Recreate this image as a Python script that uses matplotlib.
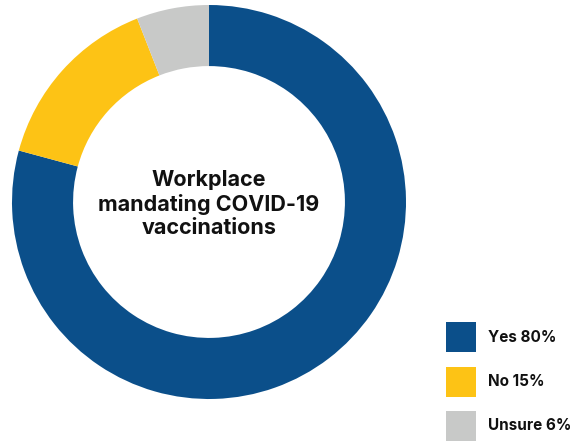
import matplotlib
matplotlib.use("Agg")
import matplotlib.pyplot as plt
from matplotlib.patches import Rectangle

categories = ["Yes", "No", "Unsure"]
values = [80, 15, 6]
colors = ["#0b4f8a", "#fdc315", "#c8c9c8"]
center_title = "Workplace\nmandating COVID-19\nvaccinations"

W, H = 580, 441
fig = plt.figure(figsize=(W / 100, H / 100), dpi=100)

# donut: centre (209, 202) px from top-left, outer radius 197 px
cx, cy, r = 209, 202, 197
ax = fig.add_axes([(cx - r) / W, (H - cy - r) / H, 2 * r / W, 2 * r / H])
ax.pie(values, colors=colors, startangle=90, counterclock=False,
       wedgeprops=dict(width=0.31, edgecolor="none"), radius=1)
ax.set_xlim(-1, 1)
ax.set_ylim(-1, 1)
ax.set_aspect("equal")
ax.axis("off")

ax.text(0, -0.01, center_title, ha="center", va="center", fontsize=15.5,
        family="Inter", weight="bold", color="#111111", linespacing=1.24)

# legend swatches with labels
for i, (cat, val, col) in enumerate(zip(categories, values, colors)):
    top = 322 + i * 44.5
    fig.patches.append(Rectangle((446 / W, 1 - (top + 30) / H), 30 / W, 30 / H,
                                 transform=fig.transFigure, facecolor=col,
                                 edgecolor="none"))
    fig.text(488 / W, 1 - (top + 15) / H, f"{cat} {val}%", ha="left",
             va="center", fontsize=11, family="Inter", weight="bold",
             color="#111111")

fig.savefig("out.png", dpi=100)
